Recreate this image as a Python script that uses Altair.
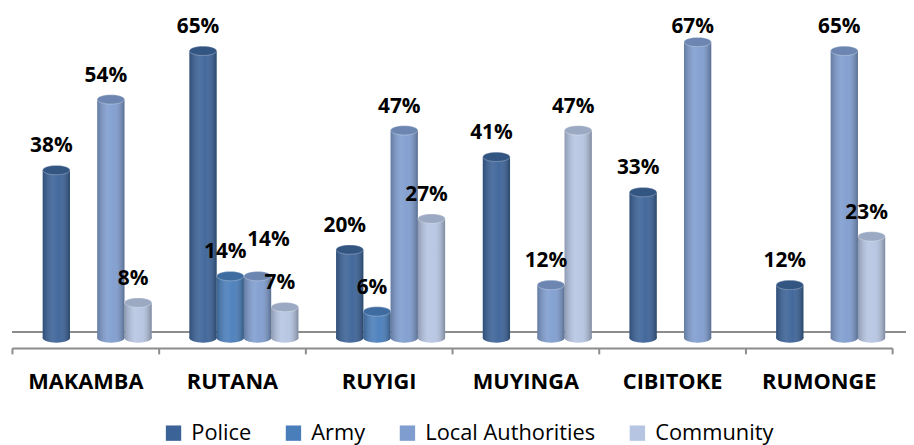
import altair as alt
import pandas as pd

regions = ["MAKAMBA", "RUTANA", "RUYIGI", "MUYINGA", "CIBITOKE", "RUMONGE"]
series = ["Police", "Army", "Local Authorities", "Community"]
police = [38, 65, 20, 41, 33, 12]
army = [None, 14, 6, None, None, None]
local_auth = [54, 14, 47, 12, 67, 65]
community = [8, 7, 27, 47, None, 23]
colors = ["#3C6398", "#4A7EBB", "#7F9DCF", "#B6C5E2"]

rows = []
for name, vals in zip(series, [police, army, local_auth, community]):
    for r, v in zip(regions, vals):
        if v is not None:
            rows.append({"region": r, "series": name, "value": v, "label": f"{v}%", "zero": 0})
df = pd.DataFrame(rows)

W, H = 888, 312
STEP = W / len(regions) / 5.382  # width of one cylinder
ELLIPSE = "M-1,0A1,0.34,0,1,1,1,0A1,0.34,0,1,1,-1,0Z"
CAP_SIZE = STEP * STEP

x = alt.X(
    "region:N", sort=regions, title=None,
    scale=alt.Scale(paddingInner=0, paddingOuter=0),
    axis=alt.Axis(labelAngle=0, labelFont="Open Sans", labelFontSize=22,
                  labelFontWeight="bold", labelColor="black",
                  domainColor="#8c8c8c", domainWidth=2, tickColor="#8c8c8c",
                  tickWidth=2, tickSize=6, tickBand="extent", offset=10,
                  labelPadding=18),
)
xo = alt.XOffset("series:N",
                 scale=alt.Scale(domain=series, paddingInner=0, paddingOuter=0.691, align=0.816))
y = alt.Y("value:Q", scale=alt.Scale(domain=[0, 70]), axis=None)
y0 = alt.Y("zero:Q", axis=None)
ylab = alt.Y("ly:Q", axis=None)
fill = alt.Fill(
    "series:N",
    scale=alt.Scale(domain=series, range=colors),
    legend=alt.Legend(orient="none", legendX=152, legendY=397, direction="horizontal",
                      title=None, symbolType="square", symbolSize=240,
                      labelFont="Open Sans", labelFontSize=22, labelColor="black",
                      columnPadding=31, labelOffset=7, padding=0,
                      symbolStrokeWidth=0, symbolOpacity=1, labelLimit=400),
)

shade = alt.LinearGradient(
    gradient="linear", x1=0, x2=1, y1=0, y2=0,
    stops=[
        alt.GradientStop(color="rgba(0,0,0,0.22)", offset=0),
        alt.GradientStop(color="rgba(255,255,255,0.10)", offset=0.38),
        alt.GradientStop(color="rgba(255,255,255,0.04)", offset=0.6),
        alt.GradientStop(color="rgba(0,0,0,0.30)", offset=1),
    ],
)

base = alt.Chart(df)

floor_back = base.transform_aggregate(n="count()").transform_calculate(zero="0").mark_rule(
    color="#8c8c8c", strokeWidth=2, yOffset=-6, xOffset=21, x2Offset=14
).encode(y=y0)

bottom_cap = base.mark_point(shape=ELLIPSE, size=CAP_SIZE, filled=True, opacity=1,
                             strokeWidth=0).encode(x=x, xOffset=xo, y=y0, fill=fill)
bottom_shade = base.mark_point(shape=ELLIPSE, size=CAP_SIZE, filled=True, opacity=1,
                               strokeWidth=0, fill=shade).encode(x=x, xOffset=xo, y=y0)
bars = base.mark_bar().encode(x=x, xOffset=xo, y=y, fill=fill)
bars_shade = base.mark_bar(fill=shade).encode(x=x, xOffset=xo, y=y)
top_cap = base.mark_point(shape=ELLIPSE, size=CAP_SIZE, filled=True, opacity=1,
                          strokeWidth=0).encode(x=x, xOffset=xo, y=y, fill=fill)
top_shade = base.mark_point(shape=ELLIPSE, size=CAP_SIZE, filled=True, opacity=1,
                            stroke="rgba(255,255,255,0.35)", strokeWidth=0.8,
                            fill="rgba(0,0,0,0.14)").encode(x=x, xOffset=xo, y=y)

special = (alt.datum.region == "RUTANA") & (alt.datum.series == "Local Authorities")
labels = base.transform_filter(~special).transform_calculate(
    ly="min(datum.value, 65)"
).mark_text(
    dx=-5, dy=-18, baseline="alphabetic", font="Open Sans", fontSize=21,
    fontWeight="bold", color="black").encode(x=x, xOffset=xo, y=ylab, text="label:N")
labels_sp = base.transform_filter(special).transform_calculate(
    ly="min(datum.value, 65)"
).mark_text(
    dx=11, dy=-30, baseline="alphabetic", font="Open Sans", fontSize=21,
    fontWeight="bold", color="black").encode(x=x, xOffset=xo, y=ylab, text="label:N")

chart = alt.layer(
    floor_back,
    bottom_cap, bottom_shade, bars, bars_shade, top_cap, top_shade,
    labels, labels_sp,
).properties(
    width=W, height=H,
    autosize=alt.AutoSizeParams(type="none"),
    padding={"left": 4, "top": 19, "right": 14, "bottom": 106},
).configure_view(stroke=None)

chart.save("out.html", embed_options={"renderer": "svg", "actions": False})
